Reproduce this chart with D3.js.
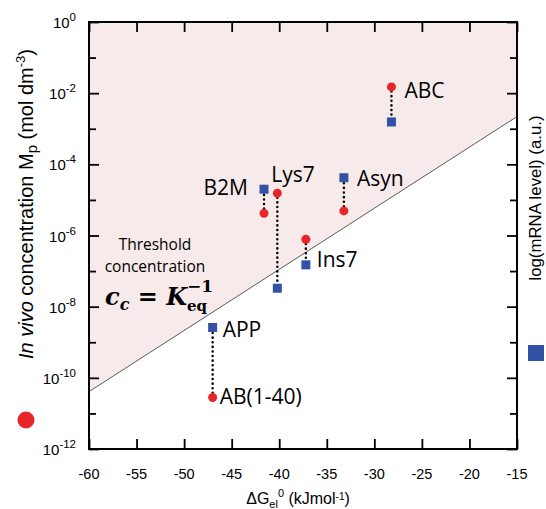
<html>
<head>
<script src="https://d3js.org/d3.v7.min.js"></script>
<style>
  body { margin: 0; background: #fff; }
  text { font-family: "Liberation Sans", Arial, sans-serif; }
  text.lbl { font-family: "Open Sans", "Noto Sans", sans-serif; }
  text.math { font-family: "DejaVu Serif", "Liberation Serif", serif; }
</style>
</head>
<body>
<div id="chart"></div>
<script>
// data
var names = ["ABC", "Asyn", "Lys7", "B2M", "Ins7", "APP"];
var redNames = ["", "", "", "", "", "AB(1-40)"];
var dG = [-28.2, -33.2, -40.2, -41.6, -37.2, -47.0];
var conc = [1.5e-2, 4.9e-6, 1.55e-5, 4.2e-6, 7.8e-7, 2.8e-11];   // red circles
var mrna = [1.55e-3, 4.2e-5, 3.3e-8, 2.0e-5, 1.5e-7, 2.6e-9];   // blue squares
var thresholdX = [-60, -15];
var thresholdC = [4.1e-11, 2.2e-3];
var xTicks = [-60, -55, -50, -45, -40, -35, -30, -25, -20, -15];
var yExp = [0, -1, -2, -3, -4, -5, -6, -7, -8, -9, -10, -11, -12];

var W = 546, H = 509;
var m = {left: 89, right: 517, top: 22, bottom: 449};

var svg = d3.select('#chart').append('svg')
  .attr('width', W).attr('height', H);

var x = d3.scaleLinear().domain([-60, -15]).range([m.left, m.right]);
var y = d3.scaleLog().domain([1e-12, 1]).range([m.bottom, m.top]);

// shaded region above threshold
var poly = [[x(-60), y(1)], [x(-15), y(1)],
            [x(thresholdX[1]), y(thresholdC[1])], [x(thresholdX[0]), y(thresholdC[0])]];
svg.append('polygon')
  .attr('points', poly.map(function(p) { return p.join(','); }).join(' '))
  .attr('fill', '#f7eaea');

svg.append('line')
  .attr('x1', x(thresholdX[0])).attr('y1', y(thresholdC[0]))
  .attr('x2', x(thresholdX[1])).attr('y2', y(thresholdC[1]))
  .attr('stroke', '#333').attr('stroke-width', 0.8);

// ticks (inward)
var yVals = yExp.map(function(e) { return Math.pow(10, e); });
function tickLen(v) { return Math.round(Math.log10(v)) % 2 === 0 ? 10 : 7; }

svg.append('g').attr('transform', 'translate(' + m.left + ',0)')
  .call(d3.axisLeft(y).tickValues(yVals).tickFormat('').tickSize(0))
  .call(function(g) {
    g.select('.domain').remove();
    g.selectAll('.tick line').attr('x2', function(d) { return tickLen(d); })
      .attr('stroke', '#000').attr('stroke-width', 1.8);
  });
svg.append('g').attr('transform', 'translate(' + m.right + ',0)')
  .call(d3.axisRight(y).tickValues(yVals).tickFormat('').tickSize(0))
  .call(function(g) {
    g.select('.domain').remove();
    g.selectAll('.tick line').attr('x2', function(d) { return -tickLen(d); })
      .attr('stroke', '#000').attr('stroke-width', 1.8);
  });
svg.append('g').attr('transform', 'translate(0,' + m.bottom + ')')
  .call(d3.axisBottom(x).tickValues(xTicks).tickSize(-10).tickFormat(''))
  .call(function(g) {
    g.select('.domain').remove();
    g.selectAll('.tick line').attr('stroke', '#000').attr('stroke-width', 1.8);
  });
svg.append('g').attr('transform', 'translate(0,' + m.top + ')')
  .call(d3.axisTop(x).tickValues(xTicks).tickSize(-10).tickFormat(''))
  .call(function(g) {
    g.select('.domain').remove();
    g.selectAll('.tick line').attr('stroke', '#000').attr('stroke-width', 1.8);
  });

svg.append('rect')
  .attr('x', m.left).attr('y', m.top)
  .attr('width', m.right - m.left).attr('height', m.bottom - m.top)
  .attr('fill', 'none').attr('stroke', '#000').attr('stroke-width', 2);

// tick labels
svg.selectAll('.xl').data(xTicks).enter().append('text')
  .attr('x', function(d) { return x(d); }).attr('y', 479)
  .attr('text-anchor', 'middle').attr('font-size', 14.5)
  .text(function(d) { return d; });

yExp.filter(function(e) { return e % 2 === 0; }).forEach(function(e) {
  var t = svg.append('text')
    .attr('x', 76).attr('y', y(Math.pow(10, e)) + 6)
    .attr('text-anchor', 'end').attr('font-size', 15);
  t.append('tspan').text('10');
  t.append('tspan').attr('font-size', 11.5).attr('dy', -7).text(e);
});

// axis titles
var yt = svg.append('text')
  .attr('transform', 'translate(33,204) rotate(-90)')
  .attr('text-anchor', 'middle').attr('font-size', 20);
yt.append('tspan').attr('font-style', 'italic').text('In vivo');
yt.append('tspan').text(' concentration M');
yt.append('tspan').attr('font-size', 15).attr('dy', 4).text('p');
yt.append('tspan').attr('dy', -4).text(' (mol dm');
yt.append('tspan').attr('font-size', 13).attr('dy', -8).text('-3');
yt.append('tspan').attr('dy', 8).text(')');

svg.append('circle').attr('cx', 26).attr('cy', 420).attr('r', 8.5).attr('fill', '#e8252a');

svg.append('text')
  .attr('transform', 'translate(541,198) rotate(-90)')
  .attr('text-anchor', 'middle').attr('font-size', 16.8)
  .text('log(mRNA level) (a.u.)');
svg.append('rect').attr('x', 528).attr('y', 345).attr('width', 16).attr('height', 16)
  .attr('fill', '#3452a4');

var xt = svg.append('text').attr('x', 298).attr('y', 504)
  .attr('text-anchor', 'middle').attr('font-size', 16);
xt.append('tspan').text('\u0394G');
xt.append('tspan').attr('font-size', 11).attr('dy', 4).text('el');
xt.append('tspan').attr('font-size', 11).attr('dy', -11).text('0');
xt.append('tspan').attr('dy', 7).text(' (kJmol');
xt.append('tspan').attr('font-size', 10).attr('dy', -4).text('-1');
xt.append('tspan').attr('dy', 4).text(')');

// annotation
svg.append('text').attr('class', 'lbl').attr('x', 155).attr('y', 250)
  .attr('text-anchor', 'middle').attr('font-size', 15.5).text('Threshold');
svg.append('text').attr('class', 'lbl').attr('x', 155).attr('y', 272)
  .attr('text-anchor', 'middle').attr('font-size', 15.5).text('concentration');
var f = svg.append('text').attr('class', 'math').attr('x', 105).attr('y', 305)
  .attr('font-weight', 'bold').attr('font-size', 24);
f.append('tspan').attr('font-style', 'italic').text('c');
f.append('tspan').attr('font-style', 'italic').attr('font-size', 16).attr('dy', 5).text('c');
f.append('tspan').attr('dy', -5).text(' = ');
f.append('tspan').attr('font-style', 'italic').text('K');
f.append('tspan').attr('font-size', 15).attr('dy', 6).text('eq');
f.append('tspan').attr('font-size', 17).attr('dx', -20).attr('dy', -19).text('\u22121');

// pairs
var pairs = names.map(function(n, i) {
  return {name: n, red: redNames[i], dG: dG[i], c: conc[i], m: mrna[i]};
});

svg.selectAll('.pair').data(pairs).enter().append('line')
  .attr('x1', function(d) { return x(d.dG); }).attr('x2', function(d) { return x(d.dG); })
  .attr('y1', function(d) { return y(d.c); }).attr('y2', function(d) { return y(d.m); })
  .attr('stroke', '#000').attr('stroke-width', 2.5)
  .attr('stroke-dasharray', '0.1,4.5').attr('stroke-linecap', 'round');

svg.selectAll('.sq').data(pairs).enter().append('rect')
  .attr('x', function(d) { return x(d.dG) - 4.5; })
  .attr('y', function(d) { return y(d.m) - 4.5; })
  .attr('width', 9).attr('height', 9).attr('fill', '#3452a4');

svg.selectAll('.dot').data(pairs).enter().append('circle')
  .attr('cx', function(d) { return x(d.dG); })
  .attr('cy', function(d) { return y(d.c); })
  .attr('r', 4.5).attr('fill', '#e8252a');

// labels: offsets from the related marker
var labelPos = {
  "ABC":  {ref: 'c', dx: 13, dy: 11, anchor: 'start'},
  "Asyn": {ref: 'm', dx: 13, dy: 8, anchor: 'start'},
  "Lys7": {ref: 'c', dx: -6, dy: -11, anchor: 'start'},
  "B2M":  {ref: 'm', dx: -16, dy: 6, anchor: 'end'},
  "Ins7": {ref: 'm', dx: 11, dy: 2, anchor: 'start'},
  "APP":  {ref: 'm', dx: 10, dy: 10, anchor: 'start'}
};
pairs.forEach(function(d) {
  var p = labelPos[d.name];
  var yy = p.ref === 'c' ? y(d.c) : y(d.m);
  svg.append('text').attr('class', 'lbl')
    .attr('x', x(d.dG) + p.dx).attr('y', yy + p.dy)
    .attr('text-anchor', p.anchor).attr('font-size', 21).text(d.name);
  if (d.red) {
    svg.append('text').attr('class', 'lbl')
      .attr('x', x(d.dG) + 7).attr('y', y(d.c) + 6)
      .attr('font-size', 21).text(d.red);
  }
});
</script>
</body>
</html>
